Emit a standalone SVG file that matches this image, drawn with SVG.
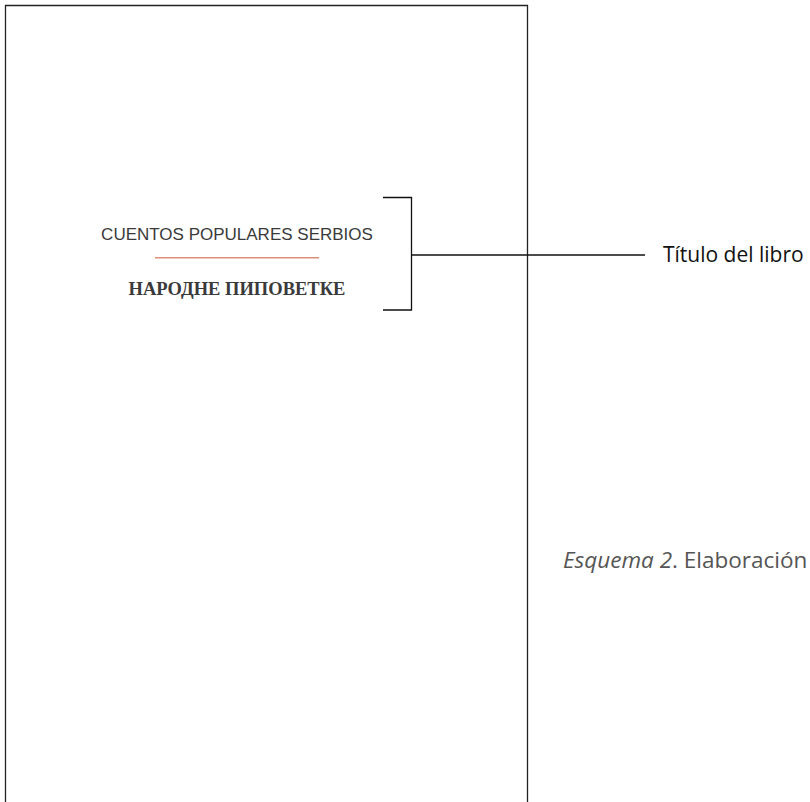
<svg xmlns="http://www.w3.org/2000/svg" width="810" height="802" viewBox="0 0 810 802">
<style>
.page{fill:#fff;stroke:#222;stroke-width:1.3}
.ln{stroke:#111;stroke-width:1.3;fill:none}
.lbl{font-family:"Open Sans","Liberation Sans",sans-serif;font-size:21px;fill:#111}
.cap{font-family:"Open Sans","Liberation Sans",sans-serif;font-size:22.5px;fill:#555}
.t1{font-family:"Liberation Sans",Arial,sans-serif;font-size:17px;fill:#3a3a3a}
.t2{font-family:"Liberation Serif","Times New Roman",serif;font-size:18.5px;font-weight:bold;fill:#3a3a3a}
</style>
<rect width="810" height="802" fill="#fff"/>
<g id="page">
<path class="page" d="M5.5,820 V5.5 H527.5 V820"/>
</g>
<g id="book-title">
<text class="t1" x="237" y="240" text-anchor="middle">CUENTOS POPULARES SERBIOS</text>
<line x1="155" y1="257.7" x2="319" y2="257.7" stroke="#de8f7a" stroke-width="1.4"/>
<text class="t2" x="237" y="295" text-anchor="middle">НАРОДНЕ ПИПОВЕТКЕ</text>
</g>
<g id="connectors">
<path class="ln" d="M383,197.5 H411.5 V310 H383"/>
<line class="ln" x1="411.5" y1="255" x2="645" y2="255"/>
</g>
<g id="label">
<text class="lbl" x="663" y="262">Título del libro</text>
</g>
<g id="caption">
<text class="cap" x="563" y="568"><tspan font-style="italic">Esquema 2</tspan>. Elaboración</text>
</g>
</svg>
